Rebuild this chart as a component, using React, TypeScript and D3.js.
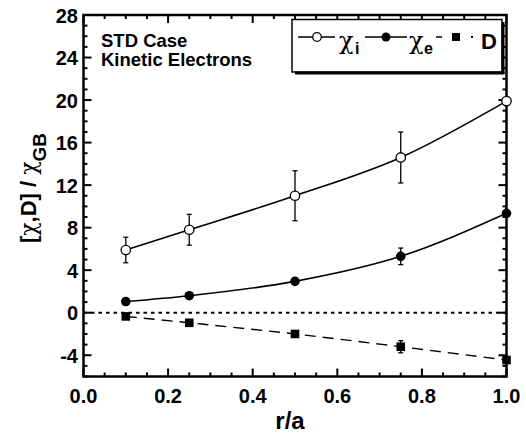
import React from "react";
import * as d3 from "d3";

const rA = [0.1, 0.25, 0.5, 0.75, 1.0];
const chiI = [5.9, 7.8, 11.0, 14.6, 19.9];
const chiIErr = [1.2, 1.45, 2.35, 2.4, 0];
const chiE = [1.05, 1.6, 2.95, 5.3, 9.35];
const chiEErr = [0.15, 0.15, 0.25, 0.78, 0];
const dVals = [-0.35, -0.95, -2.0, -3.2, -4.45];
const dErr = [0.15, 0.15, 0.25, 0.57, 0];

const xTicks = [0, 0.2, 0.4, 0.6, 0.8, 1.0];
const yTicks = [-4, 0, 4, 8, 12, 16, 20, 24, 28];

const W = 526, H = 443;
const L = 83.5, R = 506.5, T = 15, B = 376.5;

const SANS = "'Liberation Sans', Arial, Helvetica, sans-serif";
const SERIF = "'DejaVu Serif', 'Liberation Serif', serif";

export default function App() {
  const x = d3.scaleLinear().domain([0, 1]).range([L, R]);
  const y = d3.scaleLinear().domain([-6, 28]).range([B, T]);
  const line = d3.line<[number, number]>().x(d => x(d[0])).y(d => y(d[1])).curve(d3.curveMonotoneX);
  const pts = (vals: number[]) => rA.map((r, i) => [r, vals[i]] as [number, number]);

  const xMinor = d3.range(0, 1.0001, 0.05);
  const yMinor = d3.range(-6, 28.001, 1);
  const isMajorX = (v: number) => Math.abs(v * 5 - Math.round(v * 5)) < 1e-6;
  const isMajorY = (v: number) => Math.abs(v / 4 - Math.round(v / 4)) < 1e-6;
  const MJ = 8, MN = 4;

  const errBars = (vals: number[], errs: number[], key: string) =>
    rA.map((r, i) => errs[i] > 0 ? (
      <g key={key + i} stroke="#000" strokeWidth={1.3}>
        <line x1={x(r)} x2={x(r)} y1={y(vals[i] - errs[i])} y2={y(vals[i] + errs[i])} />
        <line x1={x(r) - 2.5} x2={x(r) + 2.5} y1={y(vals[i] - errs[i])} y2={y(vals[i] - errs[i])} />
        <line x1={x(r) - 2.5} x2={x(r) + 2.5} y1={y(vals[i] + errs[i])} y2={y(vals[i] + errs[i])} />
      </g>
    ) : null);

  return (
    <svg width={W} height={H} style={{ position: "absolute", left: 0, top: 0, background: "#fff" }}>
      <rect width={W} height={H} fill="#fff" />
      <line x1={L} x2={R} y1={y(0)} y2={y(0)} stroke="#000" strokeWidth={2} strokeDasharray="3.5,4" />
      <path d={line(pts(chiI)) || ""} fill="none" stroke="#000" strokeWidth={1.6} />
      <path d={line(pts(chiE)) || ""} fill="none" stroke="#000" strokeWidth={1.6} />
      <path d={line(pts(dVals)) || ""} fill="none" stroke="#000" strokeWidth={1.4} strokeDasharray="11,7" />
      {errBars(chiI, chiIErr, "ei")}
      {errBars(chiE, chiEErr, "ee")}
      {errBars(dVals, dErr, "ed")}
      <rect x={L} y={T} width={R - L} height={B - T} fill="none" stroke="#000" strokeWidth={2.5} />
      {xMinor.map((v, i) => {
        const len = isMajorX(v) ? MJ : MN;
        return (
          <g key={"xt" + i} stroke="#000" strokeWidth={2}>
            <line x1={x(v)} x2={x(v)} y1={B} y2={B - len} />
            <line x1={x(v)} x2={x(v)} y1={T} y2={T + len} />
          </g>
        );
      })}
      {yMinor.map((v, i) => {
        const len = isMajorY(v) ? MJ : MN;
        return (
          <g key={"yt" + i} stroke="#000" strokeWidth={2}>
            <line x1={L} x2={L + len} y1={y(v)} y2={y(v)} />
            <line x1={R} x2={R - len} y1={y(v)} y2={y(v)} />
          </g>
        );
      })}
      {rA.map((r, i) => (
        <circle key={"ci" + i} cx={x(r)} cy={y(chiI[i])} r={4.7} fill="#fff" stroke="#000" strokeWidth={1.3} />
      ))}
      {rA.map((r, i) => (
        <circle key={"ce" + i} cx={x(r)} cy={y(chiE[i])} r={4.8} fill="#000" />
      ))}
      {rA.map((r, i) => (
        <rect key={"sd" + i} x={x(r) - 4.3} y={y(dVals[i]) - 4.3} width={8.6} height={8.6} fill="#000" />
      ))}
      {xTicks.map((v, i) => (
        <text key={"xl" + i} x={x(v)} y={403} textAnchor="middle" fontFamily={SANS} fontWeight="bold" fontSize={20}>
          {v.toFixed(1)}
        </text>
      ))}
      {yTicks.map((v, i) => (
        <text key={"yl" + i} x={78} y={y(v) + 7.5} textAnchor="end" fontFamily={SANS} fontWeight="bold" fontSize={20}>
          {v}
        </text>
      ))}
      <text x={290} y={429} textAnchor="middle" fontFamily={SANS} fontWeight="bold" fontSize={24}>r/a</text>
      <text transform="translate(36,188) rotate(-90)" textAnchor="middle" fontFamily={SANS} fontWeight="bold" fontSize={22}>
        <tspan>[</tspan>
        <tspan fontFamily={SERIF} fontWeight="normal" fontSize={22}>χ</tspan>
        <tspan>,D] / </tspan>
        <tspan fontFamily={SERIF} fontWeight="normal" fontSize={22}>χ</tspan>
        <tspan fontSize={19} dy={10}>GB</tspan>
      </text>
      <text x={101} y={46.5} fontFamily={SANS} fontWeight="bold" fontSize={18.5}>STD Case</text>
      <text x={101} y={65.5} fontFamily={SANS} fontWeight="bold" fontSize={18.5}>Kinetic Electrons</text>
      <g>
        <rect x={292} y={19.5} width={210} height={52.5} fill="#fff" stroke="#000" strokeWidth={1.5} />
        <line x1={503} x2={503} y1={22} y2={74} stroke="#000" strokeWidth={3} />
        <line x1={295} x2={504.5} y1={73} y2={73} stroke="#000" strokeWidth={3} />
        <line x1={298} x2={335} y1={37} y2={37} stroke="#000" strokeWidth={1.5} />
        <circle cx={317} cy={37} r={4.3} fill="#fff" stroke="#000" strokeWidth={1.3} />
        <text x={339} y={48.5} fontFamily={SERIF} fontSize={24}>χ</text>
        <text x={355} y={53.5} fontFamily={SANS} fontWeight="bold" fontSize={16}>i</text>
        <line x1={365} x2={407} y1={37} y2={37} stroke="#000" strokeWidth={1.5} />
        <circle cx={386} cy={37} r={4.5} fill="#000" />
        <text x={409} y={48.5} fontFamily={SERIF} fontSize={24}>χ</text>
        <text x={424} y={53.5} fontFamily={SANS} fontWeight="bold" fontSize={16}>e</text>
        <line x1={436} x2={442} y1={37} y2={37} stroke="#000" strokeWidth={1.5} />
        <rect x={452} y={33} width={8} height={8} fill="#000" />
        <line x1={471} x2={473} y1={37} y2={37} stroke="#000" strokeWidth={1.8} />
        <text x={481} y={48.5} fontFamily={SANS} fontWeight="bold" fontSize={22}>D</text>
      </g>
    </svg>
  );
}
